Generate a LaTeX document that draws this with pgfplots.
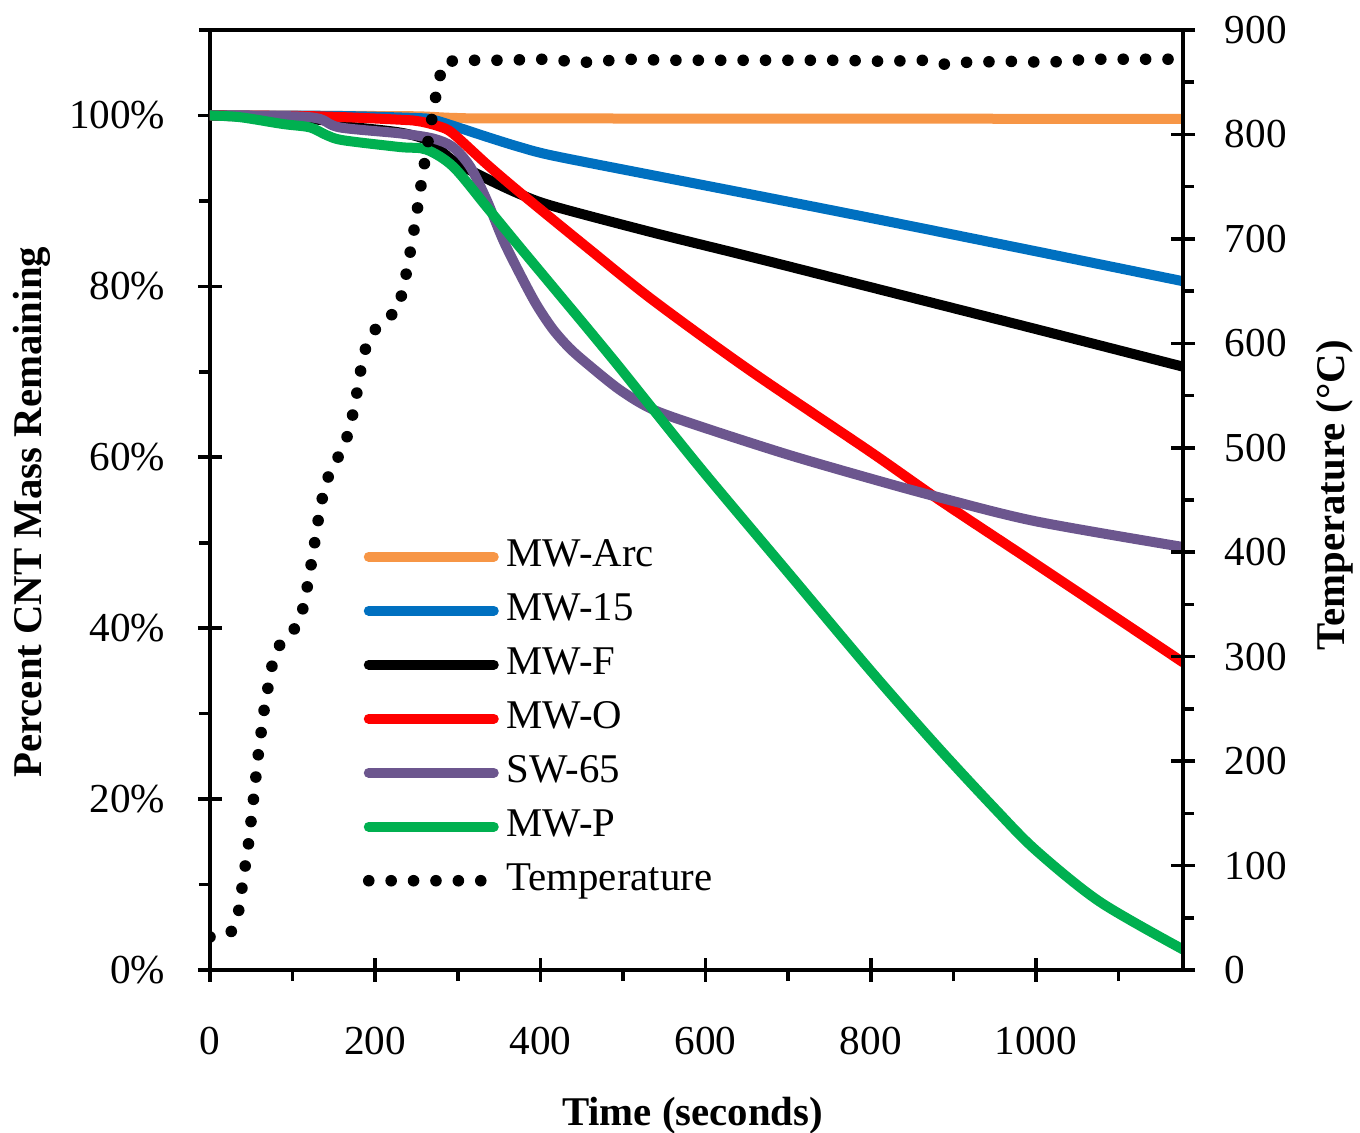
\documentclass[border=0pt]{standalone}
\usepackage{pgfplots}
\pgfplotsset{compat=1.18}
\usepackage{fontspec}
\setmainfont{Liberation Serif}

\definecolor{cArc}{RGB}{247,150,70}
\definecolor{c15}{RGB}{0,112,192}
\definecolor{cO}{RGB}{255,0,0}
\definecolor{cSW}{RGB}{108,86,142}
\definecolor{cP}{RGB}{0,176,80}

\begin{document}
\begin{tikzpicture}
\path[use as bounding box] (-52.5pt,-40.75pt) rectangle (287.5pt,242.5pt);
\pgfplotsset{
  common/.style={
    scale only axis, width=243.25pt, height=235pt, at={(0,0)}, anchor=south west,
    xmin=0, xmax=1178, scaled ticks=false,
    axis line style={line width=0.9pt},
    every tick/.style={black, line width=0.9pt},
    major tick length=6pt, minor tick length=2.8pt,
    tick align=center,
    /pgf/number format/assume math mode=true,
    /pgf/number format/1000 sep={},
    tick label style={font=\fontsize{10.3}{12}\selectfont},
    label style={font=\fontsize{10.2}{12}\selectfont\bfseries},
  },
  dl/.style={line width=2.5pt, line join=round, line cap=round, smooth},
  tp/.style={black, line width=2.9pt, line cap=round, dash pattern=on 0pt off 5.6pt},
}
\begin{axis}[common,
  ymin=0, ymax=110,
  xtick={0,200,...,1000}, minor xtick={100,300,...,1100},
  ytick={0,20,...,100}, minor ytick={10,30,...,110},
  xtick pos=left, ytick pos=left,
  yticklabel={\pgfmathprintnumber{\tick}\%},
  xticklabel style={anchor=north, inner sep=0pt, yshift=-11pt},
  yticklabel style={anchor=east, inner sep=0pt, xshift=-8pt},
  minor x tick style={yshift=-1.4pt},
  minor y tick style={xshift=-1.4pt},
  xlabel={Time (seconds)}, ylabel={Percent CNT Mass Remaining},
  xlabel style={at={(axis description cs:0.496,-0.155)}, anchor=center},
  ylabel style={at={(axis description cs:-0.183,0.487)}, anchor=center},
  legend style={at={(axis cs:185.2,50.7)}, anchor=north west, draw=none, fill=none,
    inner sep=0pt, outer sep=0pt, row sep=3.5pt,
    nodes={inner sep=0pt, text height=7.5pt, text depth=2.5pt, font=\fontsize{10.2}{12}\selectfont},
    /tikz/every odd column/.append style={column sep=1.75pt}},
  legend cell align=left,
  legend image code/.code={\draw[#1] (0pt,0pt) -- (31.25pt,0pt);},
]
\addplot[dl, cArc] coordinates {(0,100) (150,99.95) (250,99.9) (300,99.7) (400,99.65) (1178,99.6)};
\addlegendentry{MW-Arc}
\addplot[dl, c15] coordinates {(0,100) (150,99.95) (250,99.7) (270,99.5) (294,98.8) (335,97.5) (375,96.3) (415,95.3) (536,93.0) (653,90.8) (800,88.0) (1000,84.1) (1178,80.6)};
\addlegendentry{MW-15}
\addplot[dl, black] coordinates {(0,100) (130,99.5) (160,98.8) (230,98.0) (265,97.0) (294.5,94.7) (335,92.6) (375,90.8) (415,89.4) (536,86.3) (653,83.5) (800,79.9) (1000,75.0) (1178,70.6)};
\addlegendentry{MW-F}
\addplot[dl, cO] coordinates {(0,100) (130,99.9) (230,99.5) (254,99.3) (278,98.7) (294,97.9) (335,94.3) (375,91.0) (456,84.6) (536,78.4) (653,70.2) (800,60.6) (883,55.0) (1000,47.5) (1178,36.0)};
\addlegendentry{MW-O}
\addplot[dl, cSW] coordinates {(0,100) (100,99.9) (133,99.6) (157,98.6) (230,97.9) (270,97.3) (294,96.3) (315,94.0) (335,90.1) (355,85.4) (375,81.5) (395,77.9) (415,75.0) (435,72.8) (456,71.0) (496,67.9) (536,65.6) (597,63.5) (700,60.3) (800,57.5) (883,55.3) (1000,52.5) (1178,49.5)};
\addlegendentry{SW-65}
\addplot[dl, cP] coordinates {(0,100) (36,99.8) (88,99.0) (121,98.6) (141,97.7) (161,97.1) (230,96.3) (262,96.0) (294.5,94.0) (335,89.3) (375,84.6) (415.5,79.9) (456,75.2) (496,70.5) (536.5,65.6) (600,58.0) (700,46.5) (800,35.0) (880,26.2) (950,18.9) (1000,14.0) (1077,8.0) (1178,2.4)};
\addlegendentry{MW-P}
\addlegendimage{tp}
\addlegendentry{Temperature}
\end{axis}
\begin{axis}[common,
  ymin=0, ymax=900,
  axis y line*=right, axis x line=none,
  ytick={0,100,...,900}, minor ytick={50,150,...,850},
  yticklabel style={anchor=west, inner sep=0pt, xshift=7.25pt},
  minor y tick style={xshift=1.4pt},
  ylabel={Temperature (°C)},
  ylabel style={at={(axis description cs:1.156,0.505)}, anchor=center},
]
\addplot[tp] coordinates {(0,31.6) (25.4,36.1) (34.7,56.5) (38.7,78.5) (46.8,121.9) (52.9,165.6) (58.9,209.4) (66.2,253.1) (76.2,296.1) (87.1,316) (106.1,329.4) (114.1,350.4) (123.8,394.2) (132.3,437.3) (138,459.6) (146.4,480) (161,498.6) (169.8,519.9) (180.3,562.7) (184.3,584.4) (192.4,605.4) (208.2,621.4) (227.2,631) (233.9,652.7) (239.6,674.4) (248.9,717.4) (257.4,761.2) (266.3,804.6) (275.9,848.1) (282.8,869.1) (300,871) (352,871) (404,872) (453,869) (505,872) (556,871) (608,871) (658,871) (706,871) (762,871) (816,870) (866,871) (891,867) (914,869) (966,870) (1015,869) (1064,872) (1111,872) (1161,872) (1178,869)};
\end{axis}
\end{tikzpicture}
\end{document}
